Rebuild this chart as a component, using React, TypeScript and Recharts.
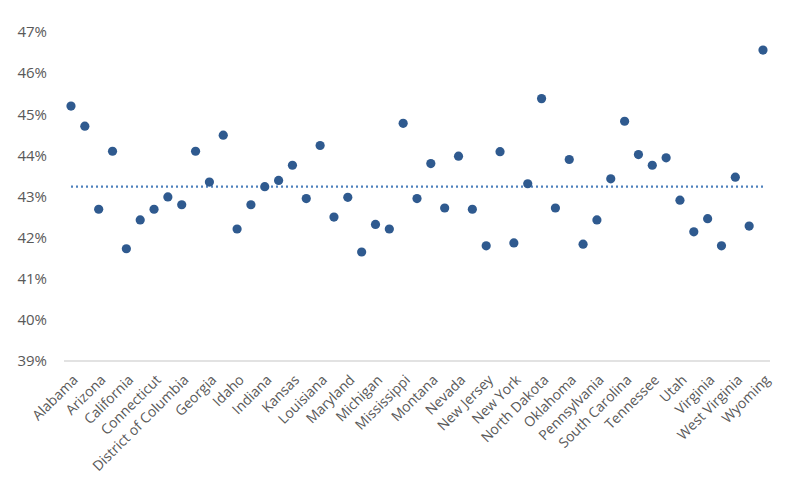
import React from 'react';
import { ComposedChart, Scatter, Line, XAxis, YAxis } from 'recharts';

const STATES = [
  'Alabama', 'Alaska', 'Arizona', 'Arkansas', 'California', 'Colorado', 'Connecticut', 'Delaware',
  'District of Columbia', 'Florida', 'Georgia', 'Hawaii', 'Idaho', 'Illinois', 'Indiana', 'Iowa',
  'Kansas', 'Kentucky', 'Louisiana', 'Maine', 'Maryland', 'Massachusetts', 'Michigan', 'Minnesota',
  'Mississippi', 'Missouri', 'Montana', 'Nebraska', 'Nevada', 'New Hampshire', 'New Jersey',
  'New Mexico', 'New York', 'North Carolina', 'North Dakota', 'Ohio', 'Oklahoma', 'Oregon',
  'Pennsylvania', 'Rhode Island', 'South Carolina', 'South Dakota', 'Tennessee', 'Texas', 'Utah',
  'Vermont', 'Virginia', 'Washington', 'West Virginia', 'Wisconsin', 'Wyoming',
];

const VALUES = [
  45.2, 44.71, 42.69, 44.1, 41.73, 42.43, 42.69, 42.99,
  42.8, 44.1, 43.35, 44.49, 42.21, 42.8, 43.24, 43.39,
  43.76, 42.95, 44.24, 42.5, 42.98, 41.65, 42.32, 42.21,
  44.78, 42.95, 43.8, 42.72, 43.98, 42.69, 41.8,
  44.09, 41.87, 43.31, 45.38, 42.72, 43.9, 41.84,
  42.43, 43.43, 44.83, 44.02, 43.76, 43.94, 42.91,
  42.14, 42.46, 41.8, 43.47, 42.28, 46.56,
];

const AVERAGE = 43.24;
const Y_TICKS = [39, 40, 41, 42, 43, 44, 45, 46, 47];

const data = STATES.map((name, i) => ({ name, value: VALUES[i], avg: AVERAGE }));

const FONT = '"Open Sans", sans-serif';
const TEXT = '#595959';

const StateTick = (props: any) => {
  const { x, y, payload } = props;
  return (
    <g transform={`translate(${x + 5},${y + 9}) rotate(-45)`}>
      <text x={0} y={0} dy={4} textAnchor="end" fill={TEXT} fontSize={14} fontFamily={FONT}>
        {payload.value}
      </text>
    </g>
  );
};

export default function App() {
  return (
    <div style={{ position: 'absolute', left: 0, top: 0, background: '#fff' }}>
      <ComposedChart
        width={800}
        height={486}
        data={data}
        margin={{ top: 32, right: 30, left: 0, bottom: 0 }}
      >
        <XAxis
          dataKey="name"
          interval={1}
          height={125}
          padding={{ left: 7, right: 7 }}
          tick={<StateTick />}
          tickLine={false}
          axisLine={{ stroke: '#d9d9d9', strokeWidth: 1.5 }}
        />
        <YAxis
          width={64}
          domain={[39, 47]}
          ticks={Y_TICKS}
          tickFormatter={(v: number) => `${v}%`}
          axisLine={false}
          tickLine={false}
          tickSize={10}
          tickMargin={7}
          tick={{ fill: TEXT, fontSize: 15, fontFamily: FONT }}
        />
        <Line
          dataKey="avg"
          stroke="#4f81bd"
          strokeWidth={2.2}
          strokeDasharray="2 3"
          dot={false}
          activeDot={false}
          isAnimationActive={false}
        />
        <Scatter
          dataKey="value"
          fill="#2f5a8f"
          isAnimationActive={false}
          shape={(p: any) => <circle cx={p.cx} cy={p.cy} r={4.6} fill="#2f5a8f" />}
        />
      </ComposedChart>
    </div>
  );
}
